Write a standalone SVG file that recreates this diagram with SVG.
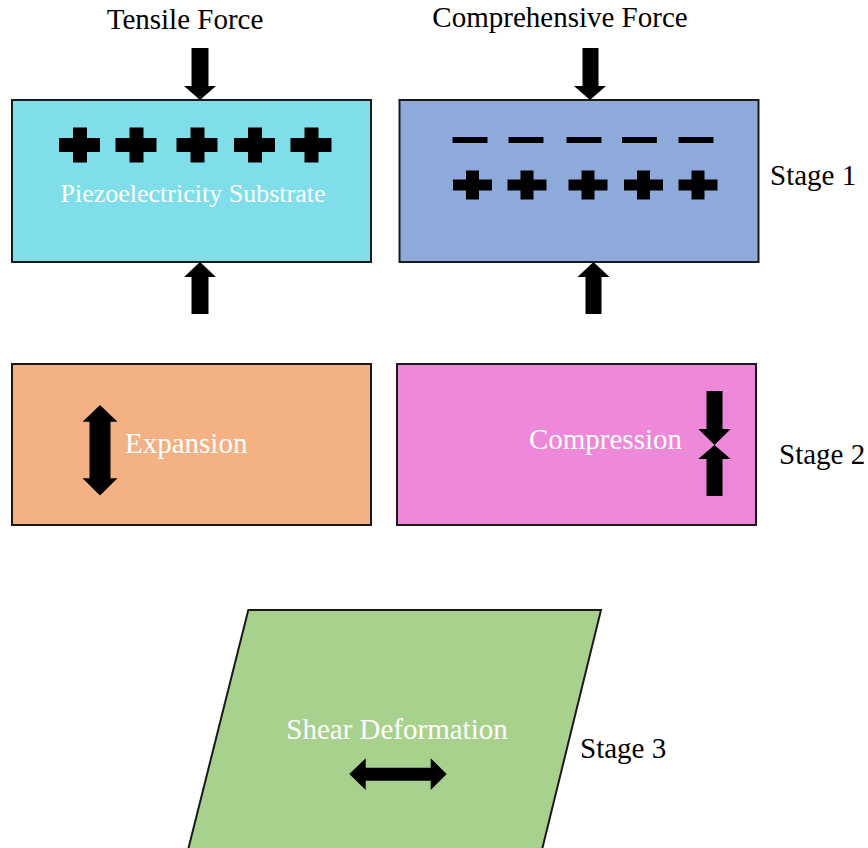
<svg xmlns="http://www.w3.org/2000/svg" width="868" height="848" viewBox="0 0 868 848">
  <style>
    .box { stroke: #1a1a1a; stroke-width: 2; }
    .lbl { font-family: "Liberation Serif", "Times New Roman", serif; font-size: 29px; fill: #000; }
    .wlbl { font-family: "Liberation Serif", "Times New Roman", serif; font-size: 29px; fill: #fff; }
    .ink { fill: #000; }
  </style>
  <defs>
    <!-- large plus charge: 41 x 35, arms 14 -->
    <path id="plusA" d="M-6.5,-17.5 H7.5 V-7 H20.5 V7 H7.5 V17.5 H-6.5 V7 H-20.5 V-7 H-6.5 Z"/>
    <!-- smaller plus charge: 39 x 29 -->
    <path id="plusB" d="M-6.5,-14.5 H6.5 V-5.5 H19.5 V5.5 H6.5 V14.5 H-6.5 V5.5 H-19.5 V-5.5 H-6.5 Z"/>
    <!-- minus charge: 35 x 6 -->
    <rect id="minus" x="-17.5" y="-3" width="35" height="6"/>
  </defs>

  <rect width="868" height="848" fill="#fff"/>

  <!-- Stage 1: tensile -->
  <g id="tensile">
    <text class="lbl" x="185" y="29" text-anchor="middle">Tensile Force</text>
    <rect class="box" x="12" y="100" width="359" height="162" fill="#7FDEEA"/>
    <g class="ink">
      <use href="#plusA" x="79.5" y="145"/>
      <use href="#plusA" x="136" y="145"/>
      <use href="#plusA" x="197" y="145"/>
      <use href="#plusA" x="254.5" y="145"/>
      <use href="#plusA" x="311" y="145"/>
    </g>
    <text class="wlbl" x="193" y="202" text-anchor="middle" style="font-size:26px">Piezoelectricity Substrate</text>
  </g>

  <!-- Stage 1: compressive -->
  <g id="compressive">
    <text class="lbl" x="560" y="27" text-anchor="middle">Comprehensive Force</text>
    <rect class="box" x="399.5" y="100" width="359" height="162" fill="#8EAADB"/>
    <g class="ink">
      <use href="#minus" x="470" y="140"/>
      <use href="#minus" x="526" y="140"/>
      <use href="#minus" x="584" y="140"/>
      <use href="#minus" x="639.5" y="140"/>
      <use href="#minus" x="696" y="140"/>
      <use href="#plusB" x="472.5" y="185"/>
      <use href="#plusB" x="527" y="185"/>
      <use href="#plusB" x="588" y="185"/>
      <use href="#plusB" x="643.5" y="185"/>
      <use href="#plusB" x="698" y="185"/>
    </g>
  </g>

  <text class="lbl" x="770" y="185">Stage 1</text>

  <!-- Stage 2: expansion -->
  <g id="expansion">
    <rect class="box" x="12" y="364" width="359" height="161" fill="#F4B183"/>
    <path class="ink" d="M100,405 L117.5,421.7 H110.5 V478.3 H117.5 L100,495.5 L82.5,478.3 H89.5 V421.7 H82.5 Z"/>
    <text class="wlbl" x="125" y="453">Expansion</text>
  </g>

  <!-- Stage 2: compression -->
  <g id="compression">
    <rect class="box" x="397" y="364" width="359" height="161" fill="#EE88D8"/>
    <path class="ink" d="M706.5,391 H722.5 V429 H730.7 L714.5,445 L698.3,429 H706.5 Z"/>
    <path class="ink" d="M714.5,445 L730.7,459 H722.5 V496 H706.5 V459 H698.3 Z"/>
    <text class="wlbl" x="682" y="449" text-anchor="end">Compression</text>
  </g>

  <text class="lbl" x="779" y="464">Stage 2</text>

  <!-- Stage 3: shear -->
  <g id="shear">
    <polygon class="box" points="248.3,610 601,610 538,866 184,866" fill="#A9D18E"/>
    <text class="wlbl" x="397" y="739" text-anchor="middle">Shear Deformation</text>
    <path class="ink" d="M349.3,774 L365.7,758.3 V767.7 H430.7 V758.3 L446.7,774 L430.7,790 V780.7 H365.7 V790 Z"/>
  </g>

  <text class="lbl" x="580" y="758">Stage 3</text>

  <!-- force arrows acting on the stage 1 blocks -->
  <g id="connectors" class="ink">
    <path d="M191.5,48 H208.5 V86 H216 L200,100 L184,86 H191.5 Z"/>
    <path d="M200,262 L216,277 H208.5 V314 H191.5 V277 H184 Z"/>
    <path d="M582.5,48 H598.5 V86 H606 L590,100 L574,86 H582.5 Z"/>
    <path d="M593.5,262 L609.5,277 H601.5 V314 H585.5 V277 H577.5 Z"/>
  </g>
</svg>
